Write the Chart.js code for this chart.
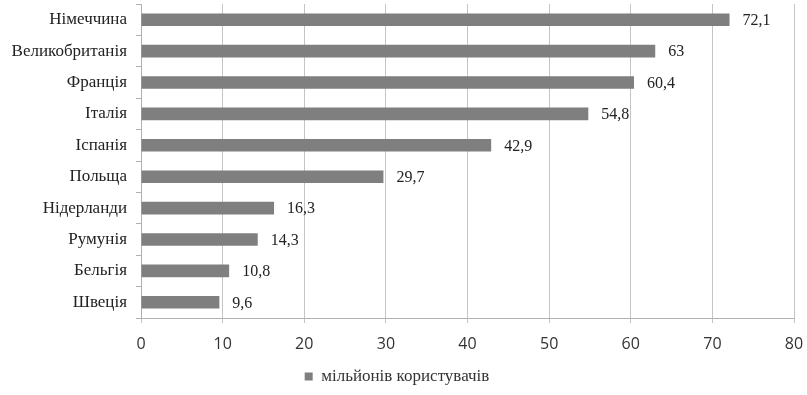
<!DOCTYPE html>
<html>
<head>
<meta charset="utf-8">
<script src="https://cdn.jsdelivr.net/npm/chart.js@4"></script>
<style>
  html, body { margin: 0; padding: 0; background: #fff; }
  #wrap { width: 807px; height: 395px; }
</style>
</head>
<body>
<div id="wrap"><canvas id="myChart" width="807" height="395"></canvas></div>
<script>
// données du graphique
const countries = ["Німеччина", "Великобританія", "Франція", "Італія", "Іспанія",
  "Польща", "Нідерланди", "Румунія", "Бельгія", "Швеція"];
const users = [72.1, 63, 60.4, 54.8, 42.9, 29.7, 16.3, 14.3, 10.8, 9.6];
const seriesLabel = "мільйонів користувачів";
const xTicks = [0, 10, 20, 30, 40, 50, 60, 70, 80];

// étiquettes de valeur à droite des barres (virgule décimale)
const valueLabels = {
  id: "valueLabels",
  afterDatasetsDraw(chart) {
    const ctx = chart.ctx;
    const meta = chart.getDatasetMeta(0);
    ctx.save();
    ctx.font = "16px 'Liberation Serif'";
    ctx.fillStyle = "#222";
    ctx.textAlign = "left";
    ctx.textBaseline = "middle";
    meta.data.forEach((bar, i) => {
      const txt = String(users[i]).replace(".", ",");
      ctx.fillText(txt, bar.x + 13, bar.y + 1);
    });
    ctx.restore();
  },
};

const ctx = document.getElementById("myChart").getContext("2d");
const myChart = new Chart(ctx, {
  type: "bar",
  data: {
    labels: countries,
    datasets: [
      {
        label: seriesLabel,
        data: users,
        backgroundColor: "#7f7f7f",
        borderWidth: 0,
        categoryPercentage: 1,
        barPercentage: 0.4,
      },
    ],
  },
  options: {
    indexAxis: "y",
    responsive: false,
    animation: false,
    layout: { padding: { top: 4, right: 13, left: 0, bottom: 0 } },
    plugins: {
      tooltip: { enabled: false },
      legend: {
        position: "bottom",
        labels: {
          boxWidth: 8,
          boxHeight: 8,
          padding: 7,
          color: "#333",
          font: { family: "'Liberation Serif'", size: 17 },
        },
      },
    },
    scales: {
      x: {
        min: 0,
        max: 80,
        afterBuildTicks: (scale) => {
          scale.ticks = xTicks.map((v) => ({ value: v }));
        },
        afterFit: (scale) => {
          scale.height = 43;
          scale.paddingLeft = 0;
          scale.paddingRight = 0;
        },
        grid: {
          color: "#c4c4c4",
          lineWidth: 1,
          tickLength: 5,
        },
        border: { color: "#b0b0b0" },
        ticks: {
          padding: 12,
          color: "#333",
          font: { family: "'Open Sans'", size: 16 },
        },
      },
      y: {
        afterFit: (scale) => {
          scale.width = 141;
          scale.paddingTop = 0;
          scale.paddingBottom = 0;
        },
        grid: {
          drawOnChartArea: false,
          color: "#b0b0b0",
          tickLength: 5,
        },
        border: { color: "#b0b0b0" },
        ticks: {
          padding: 9,
          color: "#222",
          font: { family: "'Liberation Serif'", size: 17 },
        },
      },
    },
  },
  plugins: [valueLabels],
});
</script>
</body>
</html>
